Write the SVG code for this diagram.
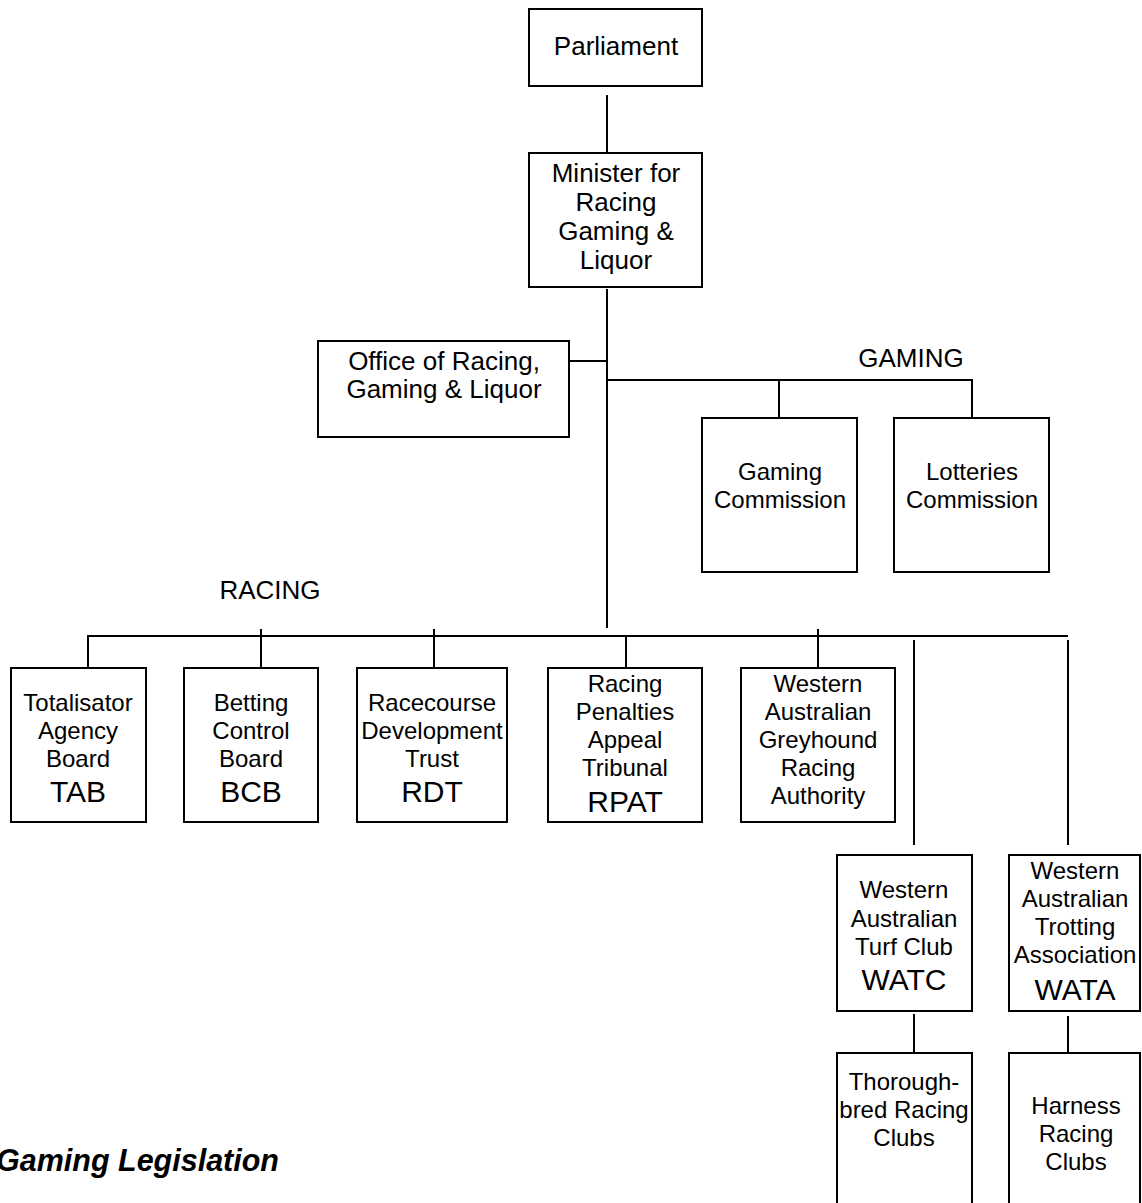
<svg xmlns="http://www.w3.org/2000/svg" width="1142" height="1203" viewBox="0 0 1142 1203">
<style>
.box{fill:#fff;stroke:#000;stroke-width:2}
.ln{fill:none;stroke:#000;stroke-width:2}
text{font-family:"Liberation Sans",Arial,Helvetica,sans-serif;fill:#000;text-anchor:middle}
.m{font-size:26px}
.s{font-size:24px}
.a{font-size:30px}
.title{font-size:30.5px;font-weight:bold;font-style:italic;text-anchor:end}
</style>
<rect width="1142" height="1203" fill="#fff"/>
<g id="connectors">
<path class="ln" d="M607,95V152"/>
<path class="ln" d="M607,289V628"/>
<path class="ln" d="M570,361H607"/>
<path class="ln" d="M607,380H972V418M779,380V418"/>
<path class="ln" d="M88,674V636H1068"/>
<path class="ln" d="M261,629V668M434,629V668M626,636V672M818,629V668"/>
<path class="ln" d="M914,640V845M1068,640V845"/>
<path class="ln" d="M914,1014V1053M1068,1016V1053"/>
</g>
<g id="label-gaming"><text class="m" x="911" y="367">GAMING</text></g>
<g id="label-racing"><text class="m" x="270" y="599">RACING</text></g>
<g id="parliament"><rect class="box" x="529" y="9" width="173" height="77"/><text class="m" x="616" y="55">Parliament</text></g>
<g id="minister"><rect class="box" x="529" y="153" width="173" height="134"/>
<text class="m" x="616" y="182">Minister for</text><text class="m" x="616" y="211">Racing</text><text class="m" x="616" y="240">Gaming &amp;</text><text class="m" x="616" y="269">Liquor</text></g>
<g id="office"><rect class="box" x="318" y="341" width="251" height="96"/>
<text class="m" x="444" y="370">Office of Racing,</text><text class="m" x="444" y="398">Gaming &amp; Liquor</text></g>
<g id="gaming-commission"><rect class="box" x="702" y="418" width="155" height="154"/>
<text class="s" x="780" y="480">Gaming</text><text class="s" x="780" y="508">Commission</text></g>
<g id="lotteries-commission"><rect class="box" x="894" y="418" width="155" height="154"/>
<text class="s" x="972" y="480">Lotteries</text><text class="s" x="972" y="508">Commission</text></g>
<g id="tab"><rect class="box" x="11" y="668" width="135" height="154"/>
<text class="s" x="78" y="711">Totalisator</text><text class="s" x="78" y="739">Agency</text><text class="s" x="78" y="767">Board</text><text class="a" x="78" y="802">TAB</text></g>
<g id="bcb"><rect class="box" x="184" y="668" width="134" height="154"/>
<text class="s" x="251" y="711">Betting</text><text class="s" x="251" y="739">Control</text><text class="s" x="251" y="767">Board</text><text class="a" x="251" y="802">BCB</text></g>
<g id="rdt"><rect class="box" x="357" y="668" width="150" height="154"/>
<text class="s" x="432" y="711">Racecourse</text><text class="s" x="432" y="739">Development</text><text class="s" x="432" y="767">Trust</text><text class="a" x="432" y="802">RDT</text></g>
<g id="rpat"><rect class="box" x="548" y="668" width="154" height="154"/>
<text class="s" x="625" y="692">Racing</text><text class="s" x="625" y="720">Penalties</text><text class="s" x="625" y="748">Appeal</text><text class="s" x="625" y="776">Tribunal</text><text class="a" x="625" y="812">RPAT</text></g>
<g id="greyhound"><rect class="box" x="741" y="668" width="154" height="154"/>
<text class="s" x="818" y="692">Western</text><text class="s" x="818" y="720">Australian</text><text class="s" x="818" y="748">Greyhound</text><text class="s" x="818" y="776">Racing</text><text class="s" x="818" y="804">Authority</text></g>
<g id="watc"><rect class="box" x="837" y="855" width="135" height="156"/>
<text class="s" x="904" y="898">Western</text><text class="s" x="904" y="927">Australian</text><text class="s" x="904" y="955">Turf Club</text><text class="a" x="904" y="990">WATC</text></g>
<g id="wata"><rect class="box" x="1009" y="855" width="131" height="156"/>
<text class="s" x="1075" y="879">Western</text><text class="s" x="1075" y="907">Australian</text><text class="s" x="1075" y="935">Trotting</text><text class="s" x="1075" y="963">Association</text><text class="a" x="1075" y="1000">WATA</text></g>
<g id="thoroughbred"><rect class="box" x="837" y="1053" width="135" height="170"/>
<text class="s" x="904" y="1090">Thorough-</text><text class="s" x="904" y="1118">bred Racing</text><text class="s" x="904" y="1146">Clubs</text></g>
<g id="harness"><rect class="box" x="1009" y="1053" width="131" height="170"/>
<text class="s" x="1076" y="1114">Harness</text><text class="s" x="1076" y="1142">Racing</text><text class="s" x="1076" y="1170">Clubs</text></g>
<g id="title"><text class="title" x="279" y="1171">Gaming Legislation</text></g>
</svg>
